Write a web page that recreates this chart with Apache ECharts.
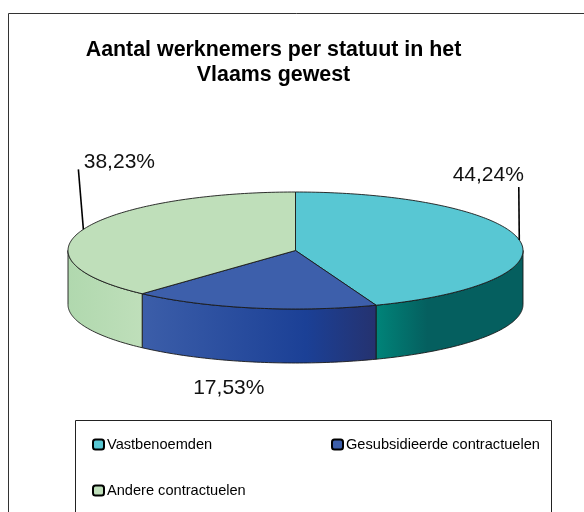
<!DOCTYPE html>
<html>
<head>
<meta charset="utf-8">
<style>html,body{margin:0;padding:0;background:#fff}#c{width:584px;height:512px}</style>
<script src="https://cdn.jsdelivr.net/npm/echarts@6/dist/echarts.min.js"></script>
</head>
<body>
<div id="c"></div>
<script>
var titleText = 'Aantal werknemers per statuut in het\nVlaams gewest';
var categories = ['Vastbenoemden', 'Gesubsidieerde contractuelen', 'Andere contractuelen'];
var values = [44.24, 17.53, 38.23];
var valueLabels = ['44,24%', '17,53%', '38,23%'];

var topColors = ['#58c7d3', '#3d5fab', '#bfdfba'];
var wallStops = [
  [[0, '#008479'], [0.35, '#055f5f'], [1, '#055f5f']],
  [[0, '#3c5ea9'], [0.7, '#1b4096'], [1, '#25326f']],
  [[0, '#b0d8ae'], [1, '#bfdfba']]
];
var pie = {cx: 295.5, cy: 250.5, rx: 227.5, ry: 58.5, depth: 54};
var labelOffsets = [[-31, -65], [-24, 80], [36, -67]];
var leaderEnds = [[-0.5, -53], null, [-5, -60]];
var legendPos = [[92, 437], [331, 437], [92, 483]];

var total = values.reduce(function (a, b) { return a + b; }, 0);
function pointAt(frac, dy) {
  var t = frac * 2 * Math.PI;
  return [pie.cx + pie.rx * Math.sin(t), pie.cy - pie.ry * Math.cos(t) + (dy || 0)];
}
function arcPoints(f0, f1, dy) {
  var n = Math.max(2, Math.ceil((f1 - f0) * 360)), pts = [];
  for (var i = 0; i <= n; i++) pts.push(pointAt(f0 + (f1 - f0) * i / n, dy));
  return pts;
}
var stroke = {stroke: '#1a1a1a', lineWidth: 0.9};

function renderSlice(idx) {
  return function () {
    var start = 0;
    for (var i = 0; i < idx; i++) start += values[i] / total;
    var end = start + values[idx] / total;
    var children = [];
    // visible (front) part of the outer wall: fractions 0.25 .. 0.75
    var w0 = Math.max(start, 0.25), w1 = Math.min(end, 0.75);
    if (w1 > w0) {
      var wallPts = arcPoints(w0, w1, 0).concat(arcPoints(w0, w1, pie.depth).reverse());
      children.push({
        type: 'polygon', z2: 1,
        shape: {points: wallPts},
        style: Object.assign({
          fill: new echarts.graphic.LinearGradient(0, 0, 1, 0,
            wallStops[idx].map(function (s) { return {offset: s[0], color: s[1]}; }))
        }, stroke)
      });
    }
    children.push({
      type: 'polygon', z2: 5,
      shape: {points: [[pie.cx, pie.cy]].concat(arcPoints(start, end, 0))},
      style: Object.assign({fill: topColors[idx]}, stroke)
    });
    var anchor = pointAt((start + end) / 2, 0);
    if (leaderEnds[idx]) {
      children.push({
        type: 'line', z2: 6,
        shape: {x1: anchor[0], y1: anchor[1], x2: anchor[0] + leaderEnds[idx][0], y2: anchor[1] + leaderEnds[idx][1]},
        style: {stroke: '#000', lineWidth: 1.6}
      });
    }
    children.push({
      type: 'text', z2: 7,
      x: anchor[0] + labelOffsets[idx][0], y: anchor[1] + labelOffsets[idx][1],
      style: {
        text: valueLabels[idx], fill: '#111', align: 'center', verticalAlign: 'middle',
        font: '21px "Liberation Sans", Arial, sans-serif'
      }
    });
    return {type: 'group', children: children};
  };
}

var chart = echarts.init(document.getElementById('c'), null, {renderer: 'canvas'});
chart.setOption({
  animation: false,
  backgroundColor: '#fff',
  title: {
    text: titleText, left: 268.5, top: 33, textAlign: 'center',
    textStyle: {fontFamily: '"Liberation Sans", Arial, sans-serif', fontWeight: 'bold', fontSize: 21.4, lineHeight: 25, color: '#000'}
  },
  legend: categories.map(function (name, i) {
    return {
      data: [name], left: legendPos[i][0], top: legendPos[i][1], padding: 0,
      icon: 'roundRect', itemWidth: 11, itemHeight: 10,
      itemStyle: {color: topColors[i], borderColor: '#000', borderWidth: 2},
      textStyle: {fontFamily: '"Liberation Sans", Arial, sans-serif', fontSize: 14.6, color: '#000', padding: [0, 0, 0, -2]},
      selectedMode: false
    };
  }),
  graphic: [
    {type: 'rect', z: -1, silent: true, shape: {x: 8.5, y: 13.5, width: 600, height: 520},
      style: {fill: 'none', stroke: '#333', lineWidth: 1}},
    {type: 'rect', z: -1, silent: true, shape: {x: 75.5, y: 420.5, width: 476, height: 120},
      style: {fill: 'none', stroke: '#222', lineWidth: 1}}
  ],
  series: categories.map(function (name, i) {
    return {
      type: 'custom', name: name, coordinateSystem: 'none', silent: true,
      itemStyle: {color: topColors[i]},
      data: [values[i]],
      renderItem: renderSlice(i)
    };
  })
});
</script>
</body>
</html>
